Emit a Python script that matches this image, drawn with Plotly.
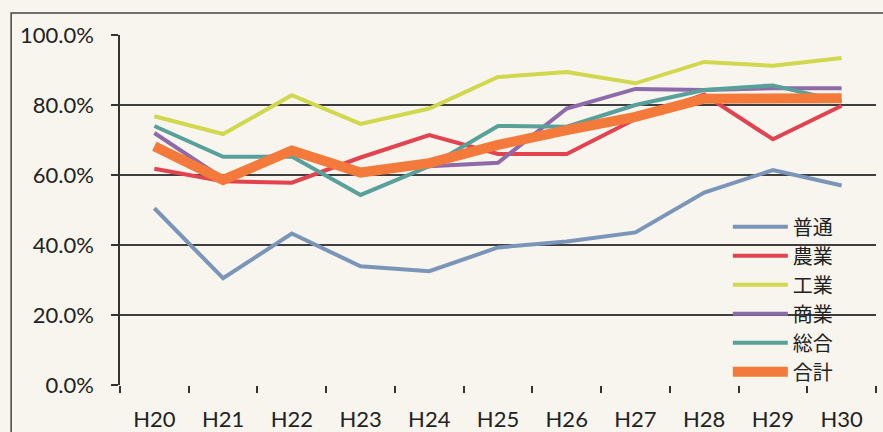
import plotly.graph_objects as go

years = ["H20", "H21", "H22", "H23", "H24", "H25", "H26", "H27", "H28", "H29", "H30"]
futsu = [50.5, 30.5, 43.3, 33.9, 32.5, 39.3, 41.0, 43.6, 55.0, 61.4, 57.0]
nogyo = [61.8, 58.2, 57.8, 65.0, 71.4, 66.0, 66.0, 76.0, 83.0, 70.2, 79.8]
kogyo = [76.8, 71.7, 82.8, 74.6, 79.0, 88.0, 89.4, 86.2, 92.3, 91.2, 93.4]
shogyo = [72.0, 59.0, 66.5, 60.5, 62.5, 63.5, 79.0, 84.6, 84.3, 84.8, 84.8]
sogo = [74.0, 65.2, 65.3, 54.3, 62.5, 74.0, 73.8, 80.0, 84.3, 85.6, 81.0]
gokei = [68.2, 58.6, 67.0, 60.7, 63.4, 68.6, 72.8, 76.6, 81.8, 81.8, 81.9]

series_names = ["普通", "農業", "工業", "商業", "総合", "合計"]
series_values = [futsu, nogyo, kogyo, shogyo, sogo, gokei]
series_colors = ["#7b95b9", "#e2434f", "#d1d84e", "#8e6ba8", "#58a19b", "#f37a3b"]
series_widths = [4, 4, 4, 4, 4, 10]

y_tickvals = [0, 20, 40, 60, 80, 100]
y_ticktext = ["0.0%", "20.0%", "40.0%", "60.0%", "80.0%", "100.0%"]

fig = go.Figure()
for name, vals, col, w in zip(series_names, series_values, series_colors, series_widths):
    fig.add_trace(go.Scatter(
        x=years, y=vals, name=name, mode="lines",
        line=dict(color=col, width=w),
    ))

bg = "#f7f5ee"
fig.update_layout(
    width=883, height=432,
    margin=dict(l=120, r=7, t=35, b=47),
    paper_bgcolor=bg, plot_bgcolor=bg,
    font=dict(family="Lato, 'Open Sans', sans-serif", size=22, color="#222222"),
    showlegend=True,
    legend=dict(
        x=0.804, y=0.508, xanchor="left", yanchor="top",
        bgcolor="rgba(0,0,0,0)",
        font=dict(family="'Noto Sans CJK JP', sans-serif", size=20, color="#222222"),
        itemwidth=55,
        tracegroupgap=0,
    ),
    xaxis=dict(
        type="category",
        tickson="boundaries",
        ticks="outside", ticklen=7, tickcolor="#333333", tickwidth=1.5,
        showgrid=False,
        showline=False,
        range=[-0.5, 10.5],
        tickfont=dict(size=22),
        ticklabelstandoff=19,
        automargin=False,
    ),
    yaxis=dict(
        range=[0, 100],
        tickvals=y_tickvals, ticktext=y_ticktext,
        ticks="outside", ticklen=7, tickcolor="#333333", tickwidth=1.5,
        showgrid=True, gridcolor="#3e3e3e", gridwidth=1.5,
        showline=True, linecolor="#333333", linewidth=1.5,
        zeroline=False,
        tickfont=dict(size=22),
        ticklabelstandoff=13,
        automargin=False,
    ),
    shapes=[
        dict(type="rect", xref="paper", yref="paper",
             x0=-0.144, x1=1.2, y0=-0.3, y1=1.063,
             line=dict(color="#444444", width=1.5), fillcolor="rgba(0,0,0,0)",
             layer="below"),
    ],
)

fig.write_html(
    "out.html",
    config={"displayModeBar": False},
    post_script="document.body.style.margin='0';document.body.style.background='#f7f5ee';",
)
